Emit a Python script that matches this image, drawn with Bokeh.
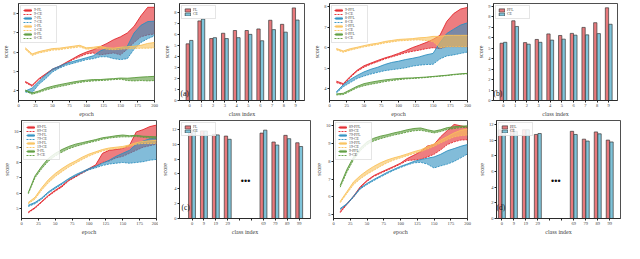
from bokeh.plotting import figure
from bokeh.layouts import column, row
from bokeh.models import Legend, LegendItem, Label, FixedTicker
from bokeh.embed import file_html
from bokeh.resources import INLINE

# ---------------- data ----------------
epochs = [10, 20, 30, 40, 50, 60, 70, 80, 90, 100, 110, 120, 130, 140, 150, 160, 170, 180, 190, 200]

# panel (a)
a_red_fl = [4.45, 4.25, 4.6, 4.85, 5.1, 5.25, 5.45, 5.65, 5.85, 6.0, 6.12, 6.28, 6.45, 6.65, 6.8, 7.0, 7.35, 7.9, 8.35, 8.35]
a_red_ce = [4.4, 4.2, 4.55, 4.8, 5.05, 5.2, 5.4, 5.6, 5.75, 5.9, 5.95, 5.85, 5.9, 5.95, 5.85, 6.15, 6.5, 6.8, 6.9, 6.95]
a_blue_fl = [3.95, 4.1, 4.45, 4.8, 5.1, 5.25, 5.4, 5.5, 5.6, 5.7, 5.8, 6.05, 6.2, 6.15, 6.2, 6.3, 7.0, 7.4, 7.6, 7.62]
a_blue_ce = [3.9, 3.85, 4.3, 4.6, 4.95, 5.15, 5.3, 5.4, 5.5, 5.6, 5.65, 5.75, 5.75, 5.65, 5.6, 5.65, 6.15, 6.5, 6.7, 6.85]
a_yel_fl = [6.22, 5.9, 6.02, 6.1, 6.18, 6.2, 6.25, 6.3, 6.35, 6.22, 6.25, 6.3, 6.22, 6.2, 6.25, 6.28, 6.3, 6.35, 6.45, 6.5]
a_yel_ce = [6.15, 5.82, 5.95, 6.02, 6.1, 6.12, 6.18, 6.22, 6.27, 6.15, 6.17, 6.2, 6.15, 6.12, 6.15, 6.17, 6.18, 6.2, 6.2, 6.22]
a_grn_fl = [4.0, 3.85, 3.95, 4.1, 4.2, 4.28, 4.35, 4.42, 4.48, 4.52, 4.55, 4.55, 4.58, 4.6, 4.63, 4.62, 4.65, 4.68, 4.7, 4.72]
a_grn_ce = [3.95, 3.78, 3.88, 4.0, 4.1, 4.18, 4.25, 4.33, 4.4, 4.45, 4.48, 4.5, 4.52, 4.55, 4.57, 4.5, 4.48, 4.5, 4.48, 4.5]
a_labels = ["9-FL", "9-CE", "7-FL", "7-CE", "1-FL", "1-CE", "0-FL", "0-CE"]

# panel (b)
b_red_fl = [4.37, 4.25, 4.6, 4.9, 5.12, 5.25, 5.38, 5.5, 5.6, 5.72, 5.85, 6.0, 6.12, 6.25, 6.4, 6.6, 7.28, 7.66, 7.88, 7.96]
b_red_ce = [4.3, 4.2, 4.55, 4.85, 5.05, 5.2, 5.32, 5.45, 5.55, 5.65, 5.75, 5.82, 5.88, 5.95, 6.0, 5.95, 6.05, 6.05, 6.05, 6.05]
b_blue_fl = [3.85, 4.2, 4.45, 4.65, 4.82, 4.95, 5.05, 5.18, 5.28, 5.34, 5.42, 5.48, 5.55, 5.65, 5.72, 6.24, 6.69, 6.9, 7.1, 7.21]
b_blue_ce = [3.8, 4.1, 4.3, 4.5, 4.62, 4.72, 4.8, 4.88, 4.93, 4.97, 5.02, 5.1, 5.15, 5.18, 5.19, 5.45, 5.6, 5.65, 5.72, 5.79]
b_yel_fl = [5.96, 5.84, 5.95, 6.02, 6.1, 6.17, 6.22, 6.3, 6.35, 6.4, 6.42, 6.44, 6.48, 6.5, 6.55, 6.55, 6.6, 6.6, 6.6, 6.6]
b_yel_ce = [5.9, 5.78, 5.88, 5.96, 6.04, 6.1, 6.16, 6.23, 6.28, 6.33, 6.35, 6.37, 6.38, 6.35, 6.3, 6.0, 6.05, 6.05, 6.05, 6.05]
b_grn_fl = [3.75, 3.78, 3.95, 4.12, 4.25, 4.32, 4.38, 4.43, 4.47, 4.5, 4.52, 4.53, 4.55, 4.57, 4.6, 4.63, 4.66, 4.7, 4.73, 4.75]
b_grn_ce = [3.7, 3.72, 3.88, 4.05, 4.15, 4.22, 4.28, 4.35, 4.4, 4.44, 4.48, 4.5, 4.52, 4.55, 4.58, 4.61, 4.64, 4.68, 4.71, 4.73]
b_labels = ["9-PFL", "9-CE", "8-PFL", "8-CE", "1-PFL", "1-CE", "0-PFL", "0-CE"]

# panel (c)
c_red_fl = [4.75, 5.05, 5.45, 5.85, 6.18, 6.47, 6.85, 7.1, 7.35, 7.6, 7.85, 8.6, 8.8, 8.85, 8.92, 9.12, 10.0, 10.15, 10.35, 10.45]
c_red_ce = [4.7, 5.0, 5.4, 5.8, 6.12, 6.4, 6.8, 7.05, 7.3, 7.55, 7.75, 8.0, 8.1, 8.3, 8.4, 8.6, 8.8, 9.0, 9.1, 9.2]
c_blue_fl = [5.2, 5.38, 5.68, 6.08, 6.38, 6.65, 6.95, 7.2, 7.4, 7.6, 7.75, 7.95, 8.15, 8.4, 8.6, 8.8, 9.2, 9.4, 9.55, 9.62]
c_blue_ce = [5.12, 5.3, 5.6, 6.0, 6.3, 6.58, 6.88, 7.12, 7.32, 7.52, 7.65, 7.8, 7.9, 7.95, 8.0, 7.95, 8.0, 8.05, 8.15, 8.2]
c_yel_fl = [5.38, 5.72, 6.35, 6.88, 7.28, 7.6, 7.88, 8.1, 8.35, 8.55, 8.7, 8.85, 8.95, 9.0, 9.05, 9.15, 9.3, 9.38, 9.42, 9.45]
c_yel_ce = [5.3, 5.6, 6.2, 6.68, 7.08, 7.4, 7.7, 7.95, 8.2, 8.42, 8.6, 8.75, 8.85, 8.9, 8.95, 9.05, 9.2, 9.25, 9.25, 9.25]
c_grn_fl = [6.02, 7.12, 7.75, 8.28, 8.6, 8.85, 9.05, 9.2, 9.3, 9.4, 9.5, 9.62, 9.68, 9.75, 9.8, 9.75, 9.78, 9.72, 9.7, 9.68]
c_grn_ce = [5.95, 7.0, 7.6, 8.1, 8.42, 8.68, 8.9, 9.05, 9.18, 9.3, 9.4, 9.52, 9.6, 9.65, 9.68, 9.68, 9.7, 9.65, 9.6, 9.58]
c_labels = ["89-FL", "89-CE", "79-FL", "79-CE", "19-FL", "19-CE", "9-FL", "9-CE"]

# panel (d)
d_red_fl = [5.18, 5.62, 6.05, 6.58, 6.93, 7.2, 7.38, 7.55, 7.72, 7.9, 8.16, 8.35, 8.55, 8.86, 8.95, 9.39, 9.74, 10.08, 10.0, 9.92]
d_red_ce = [5.12, 5.58, 6.0, 6.52, 6.88, 7.15, 7.33, 7.5, 7.67, 7.85, 8.05, 8.08, 8.12, 8.25, 8.4, 8.65, 8.95, 9.1, 9.2, 9.22]
d_blue_fl = [5.35, 5.62, 6.05, 6.5, 6.76, 6.98, 7.18, 7.38, 7.55, 7.72, 7.85, 8.0, 8.1, 8.18, 8.25, 8.4, 8.6, 8.72, 8.85, 8.95]
d_blue_ce = [5.3, 5.58, 6.0, 6.45, 6.7, 6.92, 7.12, 7.32, 7.5, 7.66, 7.8, 7.92, 7.95, 7.85, 7.63, 7.75, 7.85, 8.0, 8.2, 8.42]
d_yel_fl = [5.75, 6.3, 6.85, 7.2, 7.48, 7.72, 7.92, 8.08, 8.2, 8.3, 8.42, 8.55, 8.65, 8.82, 8.98, 9.2, 9.4, 9.6, 9.75, 9.82]
d_yel_ce = [5.68, 6.2, 6.7, 7.02, 7.28, 7.5, 7.72, 7.92, 8.08, 8.2, 8.32, 8.45, 8.55, 8.7, 8.85, 9.05, 9.22, 9.38, 9.45, 9.48]
d_grn_fl = [6.65, 7.55, 8.25, 8.75, 9.1, 9.3, 9.42, 9.5, 9.6, 9.68, 9.78, 9.85, 9.88, 9.78, 9.7, 9.78, 9.9, 9.95, 9.98, 10.0]
d_grn_ce = [6.55, 7.4, 8.1, 8.6, 8.95, 9.15, 9.28, 9.38, 9.48, 9.56, 9.65, 9.72, 9.75, 9.68, 9.6, 9.68, 9.8, 9.85, 9.9, 9.92]
d_labels = ["89-PFL", "89-CE", "79-PFL", "79-CE", "19-PFL", "19-CE", "9-PFL", "9-CE"]

# bar panels
classes_ab = ["0", "1", "2", "3", "4", "5", "6", "7", "8", "9"]
bar_a_fl = [5.14, 7.22, 5.62, 6.1, 6.35, 6.35, 6.49, 7.28, 6.91, 8.4]
bar_a_ce = [5.45, 7.39, 5.7, 5.62, 5.7, 6.0, 5.42, 6.43, 6.2, 7.3]
bar_b_pfl = [5.46, 7.6, 5.52, 5.82, 6.35, 6.2, 6.4, 6.97, 7.42, 8.84]
bar_b_ce = [5.55, 7.06, 5.37, 5.55, 5.76, 5.85, 6.23, 6.26, 6.38, 7.27]
classes_cd = ["0", "9", "19", "29", "69", "79", "89", "99"]
bar_c_fl = [12.0, 11.8, 11.34, 11.1, 11.5, 10.3, 11.2, 10.2]
bar_c_ce = [11.9, 11.78, 11.26, 10.67, 11.9, 9.9, 10.75, 9.7]
bar_d_pfl = [11.3, 11.64, 11.32, 10.72, 11.12, 10.12, 11.04, 10.0]
bar_d_ce = [11.2, 11.12, 11.32, 10.84, 10.72, 9.88, 10.8, 9.76]

# ---------------- style ----------------
FONT = "Liberation Serif"
RED, BLUE, YEL, GRN = "#e3262b", "#2e8fc0", "#f9c25a", "#5b9b3c"
BAR_RED, BAR_BLUE = "#e8797c", "#7fc4da"


def style(p, xlabel, ylabel):
    p.xgrid.visible = False
    p.ygrid.visible = False
    p.outline_line_color = "#222222"
    p.outline_line_width = 0.8
    p.xaxis.axis_label = xlabel
    p.yaxis.axis_label = ylabel
    for ax in (p.xaxis[0], p.yaxis[0]):
        ax.axis_label_text_font = FONT
        ax.axis_label_text_font_size = "6px"
        ax.axis_label_text_font_style = "normal"
        ax.major_label_text_font = FONT
        ax.major_label_text_font_size = "4.5px"
        ax.major_tick_out = 2
        ax.major_tick_in = 0
        ax.minor_tick_out = 0
        ax.minor_tick_in = 0
        ax.major_label_standoff = 1
        ax.axis_label_standoff = 1
        ax.axis_line_color = "#222222"
        ax.axis_line_width = 0.8
        ax.major_tick_line_color = "#222222"


def legend_style(lg, gw, gh):
    lg.label_text_font = FONT
    lg.label_text_font_size = "3.8px"
    lg.label_height = gh
    lg.glyph_height = gh
    lg.glyph_width = gw
    lg.label_standoff = 2
    lg.spacing = 0
    lg.padding = 2
    lg.margin = 2
    lg.border_line_color = "#cccccc"
    lg.border_line_width = 0.5
    lg.background_fill_alpha = 0.85


def line_panel(w, h, borders, yr, yticks, series, labels):
    l, r, t, b = borders
    p = figure(width=w, height=h, x_range=(0, 200), y_range=yr,
               output_backend="svg", toolbar_location=None,
               min_border_left=l, min_border_right=r, min_border_top=t, min_border_bottom=b)
    style(p, "epoch", "score")
    p.xaxis.ticker = FixedTicker(ticks=[0, 25, 50, 75, 100, 125, 150, 175, 200])
    p.yaxis.ticker = FixedTicker(ticks=yticks)
    items = []
    cols = [RED, BLUE, YEL, GRN]
    for i, (fl, ce) in enumerate(series):
        col = cols[i]
        va = p.varea(x=epochs, y1=fl, y2=ce, fill_color=col, fill_alpha=0.6)
        l1 = p.line(epochs, fl, line_color=col, line_width=0.9)
        l2 = p.line(epochs, ce, line_color=col, line_width=0.9, line_dash="2 1")
        items.append(LegendItem(label=labels[2 * i], renderers=[va, l1]))
        items.append(LegendItem(label=labels[2 * i + 1], renderers=[l2]))
    lg = Legend(items=items, location="top_left")
    legend_style(lg, 9, 4)
    p.add_layout(lg)
    return p


def bar_panel(w, h, borders, xr, yr, yticks, positions, ticklabels, v1, v2, names, gap=None):
    l, r, t, b = borders
    p = figure(width=w, height=h, x_range=xr, y_range=yr,
               output_backend="svg", toolbar_location=None,
               min_border_left=l, min_border_right=r, min_border_top=t, min_border_bottom=b)
    style(p, "class index", "score")
    ticks = list(positions) + (gap or [])
    p.xaxis.ticker = FixedTicker(ticks=ticks)
    overrides = {pos: lab for pos, lab in zip(positions, ticklabels)}
    for g in (gap or []):
        overrides[g] = ""
    p.xaxis.major_label_overrides = overrides
    p.yaxis.ticker = FixedTicker(ticks=yticks)
    r1 = p.vbar(x=[x - 0.15 for x in positions], top=v1, width=0.28,
                fill_color=BAR_RED, line_color="#3a3a3a", line_width=0.7)
    r2 = p.vbar(x=[x + 0.15 for x in positions], top=v2, width=0.28,
                fill_color=BAR_BLUE, line_color="#3a3a3a", line_width=0.7)
    lg = Legend(items=[LegendItem(label=names[0], renderers=[r1]),
                       LegendItem(label=names[1], renderers=[r2])], location="top_left")
    legend_style(lg, 7, 4)
    p.add_layout(lg)
    if gap:
        gx = sum(gap) / len(gap)
        p.text(x=[gx], y=[0.38 * yr[1]], text=["\u2022\u2022\u2022"], text_font_size="9px",
               text_align="center", text_baseline="middle", text_color="#111111")
    return p


def tag(p, txt, x, y):
    p.add_layout(Label(x=x, y=y, x_units="screen", y_units="screen", text=txt,
                       text_font=FONT, text_font_size="7.5px", text_color="#111111"))


H1, H2 = 119, 124

f1 = line_panel(161, H1, (15, 7, 3, 17), (3.45, 8.55), [4, 5, 6, 7, 8],
                [(a_red_fl, a_red_ce), (a_blue_fl, a_blue_ce), (a_yel_fl, a_yel_ce), (a_grn_fl, a_grn_ce)], a_labels)
pos_ab = list(range(len(classes_ab)))
f2 = bar_panel(149, H1, (14, 6, 3, 17), (-0.85, 9.75), (0, 8.8), [0, 1, 2, 3, 4, 5, 6, 7, 8],
               pos_ab, classes_ab, bar_a_fl, bar_a_ce, ["FL", "CE"])
tag(f2, "(a)", 1, 3)
f3 = line_panel(165, H1, (19, 8, 3, 17), (3.43, 8.15), [4, 5, 6, 7, 8],
                [(b_red_fl, b_red_ce), (b_blue_fl, b_blue_ce), (b_yel_fl, b_yel_ce), (b_grn_fl, b_grn_ce)], b_labels)
f4 = bar_panel(149, H1, (13, 7, 3, 17), (-0.85, 9.75), (0, 9.25), [0, 1, 2, 3, 4, 5, 6, 7, 8, 9],
               pos_ab, classes_ab, bar_b_pfl, bar_b_ce, ["PFL", "CE"])
tag(f4, "(b)", 0, 3)

f5 = line_panel(158, H2, (16, 2, 1, 25), (4.33, 10.75), [5, 6, 7, 8, 9, 10],
                [(c_red_fl, c_red_ce), (c_blue_fl, c_blue_ce), (c_yel_fl, c_yel_ce), (c_grn_fl, c_grn_ce)], c_labels)
pos_cd = [0, 1, 2, 3, 6, 7, 8, 9]
f6 = bar_panel(154, H2, (13, 2, 1, 25), (-1.05, 9.95), (0, 13.2), [0, 2, 4, 6, 8, 10, 12],
               pos_cd, classes_cd, bar_c_fl, bar_c_ce, ["FL", "CE"], gap=[4, 5])
tag(f6, "(c)", 2, 7)
f7 = line_panel(163, H2, (18, 8, 1, 25), (4.79, 10.3), [5, 6, 7, 8, 9, 10],
                [(d_red_fl, d_red_ce), (d_blue_fl, d_blue_ce), (d_yel_fl, d_yel_ce), (d_grn_fl, d_grn_ce)], d_labels)
f8 = bar_panel(149, H2, (13, 4, 1, 25), (-0.45, 9.9), (0, 12.5), [0, 2, 4, 6, 8, 10, 12],
               pos_cd, classes_cd, bar_d_pfl, bar_d_ce, ["PFL", "CE"], gap=[4, 5])
tag(f8, "(d)", 0, 7)

p = column(row(f1, f2, f3, f4), row(f5, f6, f7, f8))

open("out.html", "w").write(file_html(p, INLINE))
